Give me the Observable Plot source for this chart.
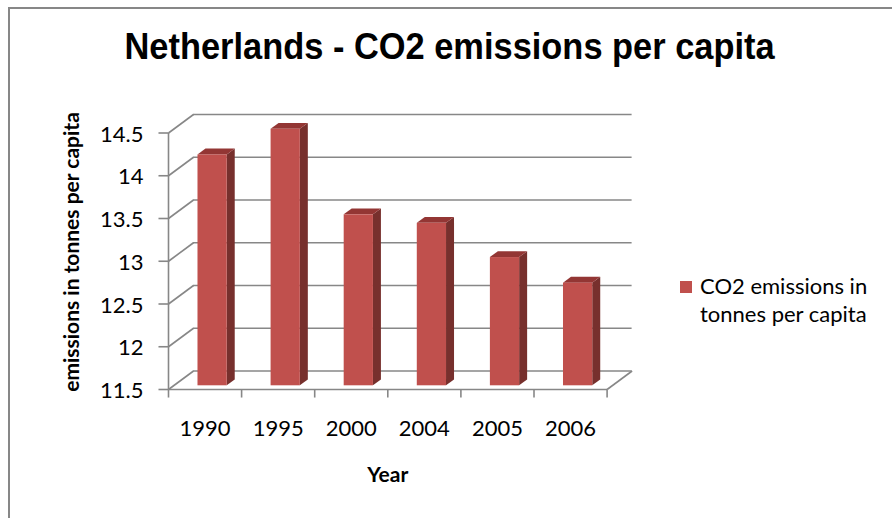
<!DOCTYPE html>
<html>
<head>
<meta charset="utf-8">
<script src="https://cdn.jsdelivr.net/npm/d3@7"></script>
<script src="https://cdn.jsdelivr.net/npm/@observablehq/plot@0.6"></script>
<style>
  html, body { margin: 0; padding: 0; background: #fff; }
  #wrap { position: relative; width: 892px; height: 518px; overflow: hidden; background: #fff; }
  #frame { position: absolute; left: 8px; top: 7px; width: 1000px; height: 1000px; border: 2px solid #878787; box-sizing: border-box; pointer-events: none; }
  #title { position: absolute; left: 4px; top: 28px; width: 892px; text-align: center; font-family: "Liberation Sans", Arial, sans-serif; font-weight: bold; font-size: 37px; line-height: 38px; color: #000; white-space: nowrap; }
  #title span { display: inline-block; transform: scaleX(0.93); transform-origin: center; }
  #legend { position: absolute; left: 680px; top: 272px; font-family: Lato, sans-serif; font-size: 22px; line-height: 28px; color: #000; }
  #legend .sw { position: absolute; left: 0; top: 9px; width: 12px; height: 12px; background: #C0504D; }
  #legend .tx { position: absolute; left: 20px; top: 0; white-space: nowrap; }
  #chart { position: absolute; left: 0; top: 0; }
</style>
</head>
<body>
<div id="wrap">
  <div id="chart"></div>
  <div id="frame"></div>
  <div id="title"><span>Netherlands - CO2 emissions per capita</span></div>
  <div id="legend"><div class="sw"></div><div class="tx">CO2 emissions in<br>tonnes per capita</div></div>
</div>
<script>
// ---- data ----
const years = ["1990", "1995", "2000", "2004", "2005", "2006"];
const emissions = [14.2, 14.5, 13.5, 13.4, 13.0, 12.7];
const yTicks = [11.5, 12, 12.5, 13, 13.5, 14, 14.5];
const yTickLabels = ["11.5", "12", "12.5", "13", "13.5", "14", "14.5"];
const xTitle = "Year";
const yTitle = "emissions in tonnes per capita";

// ---- 3D geometry (in data units) ----
const BASE = 11.5;
const N = years.length;
const DX = 0.342;   // wall depth along x (category units)
const DY = 0.2164;  // wall depth along y (value units)
const F0 = 0.2, F1 = 0.52; // bar depth: front and back fractions
const BAR_OFF = 0.335, BAR_W = 0.4;
const TICK_X = 0.137, TICK_Y = 0.094;

const FRONT = "#C0504D", TOP = "#933634", SIDE = "#77302D";
const GRID = "#878787";

const idx = d3.range(N);
const xl = i => i + BAR_OFF + F0 * DX;
const xr = i => i + BAR_OFF + BAR_W + F0 * DX;
const dd = (F1 - F0);

const topPts = idx.flatMap(i => [
  {i, y: emissions[i] + F0 * DY, x1: xl(i), x2: xr(i)},
  {i, y: emissions[i] + F1 * DY, x1: xl(i) + dd * DX, x2: xr(i) + dd * DX}
]);
const sidePts = idx.flatMap(i => [
  {i, x: xr(i), y1: BASE + F0 * DY, y2: emissions[i] + F0 * DY},
  {i, x: xr(i) + dd * DX, y1: BASE + F1 * DY, y2: emissions[i] + F1 * DY}
]);
const xEdges = d3.range(N + 1);

const chart = Plot.plot({
  width: 892,
  height: 518,
  marginLeft: 168,
  marginRight: 260.4,
  marginTop: 114,
  marginBottom: 129,
  style: {background: "transparent"},
  x: {domain: [0, N + DX], axis: null},
  y: {domain: [BASE, yTicks[yTicks.length - 1] + DY], axis: null},
  marks: [
    // back wall gridlines
    Plot.ruleY(yTicks, {y: d => d + DY, x1: () => DX, x2: () => N + DX, stroke: GRID, strokeWidth: 1.6}),
    // left wall diagonals
    Plot.link(yTicks, {x1: () => 0, y1: d => d, x2: () => DX, y2: d => d + DY, stroke: GRID, strokeWidth: 1.6}),
    // floor front edge and right diagonal
    Plot.link([0], {x1: () => 0, y1: () => BASE, x2: () => N, y2: () => BASE, stroke: GRID, strokeWidth: 1.6}),
    Plot.link([0], {x1: () => N, y1: () => BASE, x2: () => N + DX, y2: () => BASE + DY, stroke: GRID, strokeWidth: 1.6}),
    // front vertical axis
    Plot.link([0], {x1: () => 0, y1: () => BASE, x2: () => 0, y2: () => yTicks[yTicks.length - 1], stroke: GRID, strokeWidth: 1.6}),
    // y ticks
    Plot.link(yTicks, {x1: () => -TICK_X, x2: () => 0, y1: d => d, y2: d => d, stroke: GRID, strokeWidth: 1.6}),
    // x ticks
    Plot.link(xEdges, {x1: d => d, x2: d => d, y1: () => BASE, y2: () => BASE - TICK_Y, stroke: GRID, strokeWidth: 1.6}),
    // bars: side, top, front
    Plot.areaY(sidePts, {x: "x", y1: "y1", y2: "y2", z: "i", fill: SIDE}),
    Plot.areaX(topPts, {y: "y", x1: "x1", x2: "x2", z: "i", fill: TOP}),
    Plot.rect(idx, {x1: xl, x2: xr, y1: () => BASE + F0 * DY, y2: i => emissions[i] + F0 * DY, fill: FRONT}),
    // y tick labels
    Plot.text(yTicks, {x: () => 0, y: d => d, text: (d, i) => yTickLabels[i], dx: -25, dy: 1.5, textAnchor: "end",
      fontFamily: "Lato, sans-serif", fontSize: 22, fill: "#000"}),
    // x tick labels
    Plot.text(years, {x: (d, i) => i + 0.5, y: () => BASE, text: d => d, dy: 39,
      fontFamily: "Lato, sans-serif", fontSize: 22, fill: "#000"}),
    // x axis title
    Plot.text([xTitle], {x: () => N / 2, y: () => BASE, text: d => d, dy: 86,
      fontFamily: "Lato, sans-serif", fontSize: 21, fontWeight: "bold", fill: "#000"}),
    // y axis title
    Plot.text([yTitle], {x: () => 0, y: () => (BASE + yTicks[yTicks.length - 1] + DY) / 2, text: d => d, rotate: -90, dx: -96,
      fontFamily: "Lato, sans-serif", fontSize: 21, fontWeight: "bold", fill: "#000"})
  ]
});
document.getElementById("chart").appendChild(chart);
</script>
</body>
</html>
